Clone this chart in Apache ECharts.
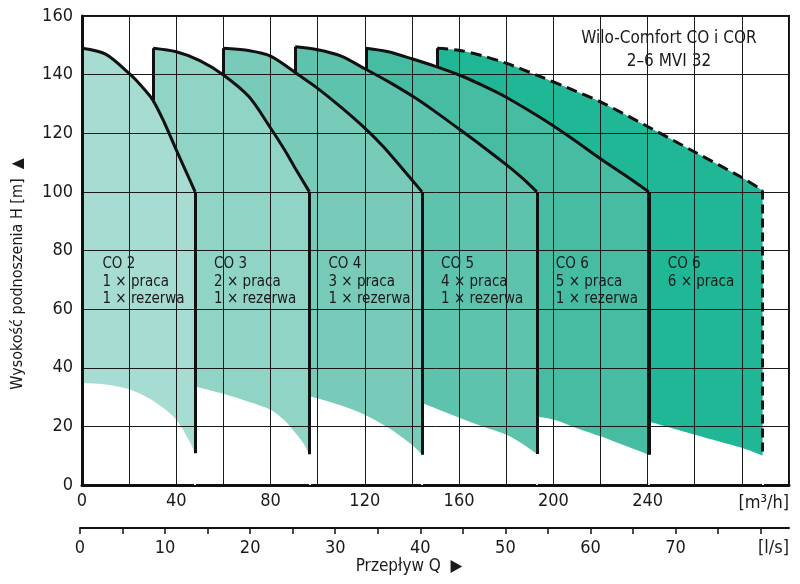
<!DOCTYPE html>
<html>
<head>
<meta charset="utf-8">
<title>Wilo-Comfort CO i COR 2–6 MVI 32</title>
<script src="https://cdn.jsdelivr.net/npm/echarts@6/dist/echarts.min.js"></script>
<style>
  html, body { margin: 0; padding: 0; background: #ffffff; }
  #chart { width: 800px; height: 584px; }
</style>
</head>
<body>
<div id="chart"></div>
<script>
// pump groups: CO 2 (1 working) ... CO 6 (6 working)
const groupNames = ['CO 2', 'CO 3', 'CO 4', 'CO 5', 'CO 6', 'CO 6'];
const groupWorking = ['1 × praca', '2 × praca', '3 × praca', '4 × praca', '5 × praca', '6 × praca'];
const groupReserve = ['1 × rezerwa', '1 × rezerwa', '1 × rezerwa', '1 × rezerwa', '1 × rezerwa', ''];
const groupColors = ['#a6dcd1', '#8fd4c5', '#77cbb8', '#5ec3ac', '#46bda3', '#20b796'];

// upper curves, [Q m3/h, H m]
const topCO2 = [[0, 149], [10, 147], [20, 140.4], [25, 136.3], [30, 131.4], [35, 123.5], [40, 114.3], [44, 107.2], [48, 100]];
const topCO3 = [[30.2, 149], [40, 147.8], [50, 144.8], [60, 139.9], [70.8, 132.5], [80, 121.8], [86, 114.3], [90.6, 107.9], [96.5, 100]];
const topCO4 = [[60, 149], [70, 148.3], [80, 146.3], [92.6, 139.5], [100, 135.3], [110, 128.8], [121, 121], [128, 115.3], [135, 108.8], [144.3, 100]];
const topCO5 = [[90.5, 149.5], [100, 148.5], [110, 146.3], [120, 142], [130, 137.6], [141.5, 132], [150, 127.3], [160.6, 121.1], [170, 115.5], [180, 109.3], [187, 104.6], [193, 100]];
const topCO6 = [[120.5, 149], [130, 147.8], [140, 145.4], [150, 142.8], [160.6, 139.7], [170, 136.3], [180, 132.3], [195, 125.1], [207, 118.7], [220, 111.3], [230, 105.9], [240.5, 100]];
const topCO6b = [[150.7, 149], [160, 148.3], [170, 146.4], [180, 143.9], [194.6, 139.3], [207, 135.2], [220, 130.7], [240, 122.3], [260, 113.6], [280, 104.9], [288.8, 100.5]];

// lower limit curves
const lowCO2 = [[0, 34.8], [10, 34.3], [20, 32.7], [28, 29.8], [34, 26.6], [40, 22.3], [45.3, 15.4], [48, 10.8]];
const lowCO3 = [[48, 33.6], [60, 31.1], [70, 28.6], [80, 25.7], [86, 22], [90.5, 17.8], [94, 14.2], [96.5, 10.5]];
const lowCO4 = [[96.5, 30.2], [100, 29.6], [110, 27.1], [120, 24], [130, 19.5], [140, 13.7], [144.3, 10.3]];
const lowCO5 = [[144.3, 28], [150, 26.2], [160.6, 22.8], [170, 20], [180.4, 17.1], [187, 14], [193, 10.6]];
const lowCO6 = [[193, 23.4], [200.3, 22.3], [210, 19.4], [220, 16.6], [240.5, 10.3]];
const lowCO6b = [[240.5, 21.7], [260.5, 17.1], [280.3, 12.6], [288.8, 10]];

// head of the previous curve where each group's curve starts
const startFoot = [null, 131.3, 139.9, 140.5, 142, 142.8];

const topCurves = [topCO2, topCO3, topCO4, topCO5, topCO6, topCO6b];
const lowCurves = [lowCO2, lowCO3, lowCO4, lowCO5, lowCO6, lowCO6b];

const flowTicksM3h = [0, 40, 80, 120, 160, 200, 240];
const flowTicksLs = [0, 10, 20, 30, 40, 50, 60, 70];
const flowMinorLs = [0, 5, 10, 15, 20, 25, 30, 35, 40, 45, 50, 55, 60, 65, 70, 75, 80];

const titleLines = ['Wilo-Comfort CO i COR', '2–6 MVI 32'];

const FONT = "'Liberation Sans Narrow', 'DejaVu Sans Condensed', 'Arial Narrow', sans-serif";
const INK = '#1a1a1a';
const SMOOTH = 0.3;

const series = [];

// coloured fills, back to front
for (let i = topCurves.length - 1; i >= 0; i--) {
  series.push({
    type: 'line',
    data: topCurves[i],
    smooth: SMOOTH,
    symbol: 'none',
    silent: true,
    z: 1,
    lineStyle: { width: 0, opacity: 0 },
    areaStyle: { color: groupColors[i], opacity: 1 }
  });
}

// white under the lower limits
lowCurves.forEach(c => {
  const last = c[c.length - 1];
  series.push({
    type: 'line',
    data: c,
    smooth: SMOOTH,
    symbol: 'none',
    silent: true,
    z: 2,
    lineStyle: { width: 0, opacity: 0 },
    areaStyle: { color: '#ffffff', opacity: 1 },
    // clean the anti-aliased right edge of the fill below the limit
    markLine: {
      silent: true,
      symbol: ['none', 'none'],
      label: { show: false },
      lineStyle: { color: '#ffffff', width: 2, type: 'solid' },
      data: [[{ coord: [last[0], 0] }, { coord: [last[0], last[1]] }]]
    }
  });
});

// text bands and title box
const bandData = topCurves.map((c, i) => {
  const x1 = i === 0 ? 0.6 : topCurves[i - 1][topCurves[i - 1].length - 1][0];
  const x2 = c[c.length - 1][0];
  const text = [groupNames[i], groupWorking[i], groupReserve[i]].filter(Boolean).join('\n');
  return [
    { coord: [x1, 79.6], itemStyle: { color: groupColors[i] }, label: { formatter: text } },
    { coord: [x2, i === 5 ? 67 : 60.4] }
  ];
});
bandData.push([
  {
    coord: [200.4, 139.6],
    itemStyle: { color: '#ffffff' },
    label: {
      formatter: titleLines.join('\n'),
      position: 'inside',
      offset: [-2, 3],
      fontSize: 17,
      lineHeight: 23,
      align: 'center'
    }
  },
  { coord: [299.4, 159.5] }
]);

series.push({
  type: 'line',
  data: [],
  z: 4,
  silent: true,
  markArea: {
    silent: true,
    label: {
      show: true,
      position: 'insideTopLeft',
      distance: 0,
      offset: [19, 4],
      color: INK,
      fontFamily: FONT,
      fontSize: 15,
      lineHeight: 17.3
    },
    itemStyle: { opacity: 1, borderWidth: 0 },
    data: bandData
  }
});

// black outlines + vertical limits
topCurves.forEach((c, i) => {
  const last = c[c.length - 1];
  const lowLast = lowCurves[i][lowCurves[i].length - 1];
  const dashed = i === 5;
  const lines = [[{ coord: [last[0], last[1]] }, { coord: [last[0], lowLast[1]] }]];
  if (startFoot[i] !== null) {
    lines.push([{ coord: [c[0][0], startFoot[i]], lineStyle: { type: 'solid' } }, { coord: [c[0][0], c[0][1]] }]);
  }
  series.push({
    type: 'line',
    data: c,
    smooth: SMOOTH,
    symbol: 'none',
    silent: true,
    z: 5,
    lineStyle: { color: '#111', width: 3, type: dashed ? [11, 6] : 'solid' },
    markLine: {
      silent: true,
      symbol: ['none', 'none'],
      label: { show: false },
      lineStyle: { color: '#111', width: 3, type: dashed ? [9, 5] : 'solid' },
      data: lines
    }
  });
});

const option = {
  animation: false,
  grid: [
    { left: 82, right: 11, top: 16, bottom: 99, show: true, borderColor: '#111', borderWidth: 2 },
    { left: 80, right: 11, top: 527, height: 1 }
  ],
  xAxis: [
    {
      type: 'value',
      gridIndex: 0,
      min: 0,
      max: 300,
      interval: 20,
      z: 3,
      axisLine: { lineStyle: { color: '#111', width: 3 } },
      axisTick: { show: false },
      splitLine: { show: true, lineStyle: { color: '#1a1a1a', width: 1 } },
      axisLabel: {
        customValues: flowTicksM3h,
        margin: 7,
        color: INK,
        fontFamily: FONT,
        fontSize: 18
      },
      name: '[m³/h]',
      nameLocation: 'end',
      nameGap: 0,
      nameMoveOverlap: false,
      nameTextStyle: {
        color: INK,
        fontFamily: FONT,
        fontSize: 18,
        align: 'right',
        verticalAlign: 'top',
        padding: [9, 0, 0, 0]
      }
    },
    {
      type: 'value',
      gridIndex: 1,
      min: 0,
      max: 300 / 3.6,
      interval: 5,
      axisLine: { lineStyle: { color: '#111', width: 2 } },
      axisTick: { show: true, customValues: flowMinorLs, length: 6, lineStyle: { color: '#111', width: 1.5 } },
      splitLine: { show: false },
      axisLabel: {
        customValues: flowTicksLs,
        margin: 11,
        color: INK,
        fontFamily: FONT,
        fontSize: 18
      },
      name: '[l/s]',
      nameLocation: 'end',
      nameGap: 0,
      nameMoveOverlap: false,
      nameTextStyle: {
        color: INK,
        fontFamily: FONT,
        fontSize: 18,
        align: 'right',
        verticalAlign: 'top',
        padding: [11, 0, 0, 0]
      }
    }
  ],
  yAxis: [
    {
      type: 'value',
      gridIndex: 0,
      min: 0,
      max: 160,
      interval: 20,
      z: 3,
      axisLine: { show: true, lineStyle: { color: '#111', width: 3 } },
      axisTick: { show: false },
      splitLine: { show: true, lineStyle: { color: '#1a1a1a', width: 1 } },
      axisLabel: { margin: 9, color: INK, fontFamily: FONT, fontSize: 18 }
    },
    { type: 'value', gridIndex: 1, show: false, min: 0, max: 1 }
  ],
  graphic: [
    {
      type: 'text',
      x: 18,
      y: 274,
      rotation: Math.PI / 2,
      style: {
        text: 'Wysokość podnoszenia H [m]  ▲',
        fill: INK,
        font: '16px ' + FONT,
        align: 'center',
        verticalAlign: 'middle'
      }
    },
    {
      type: 'text',
      x: 409,
      y: 567,
      style: {
        text: 'Przepływ Q  ▶',
        fill: INK,
        font: '17px ' + FONT,
        align: 'center',
        verticalAlign: 'middle'
      }
    }
  ],
  series: series
};

const chart = echarts.init(document.getElementById('chart'), null, { renderer: 'canvas' });
chart.setOption(option);
</script>
</body>
</html>
